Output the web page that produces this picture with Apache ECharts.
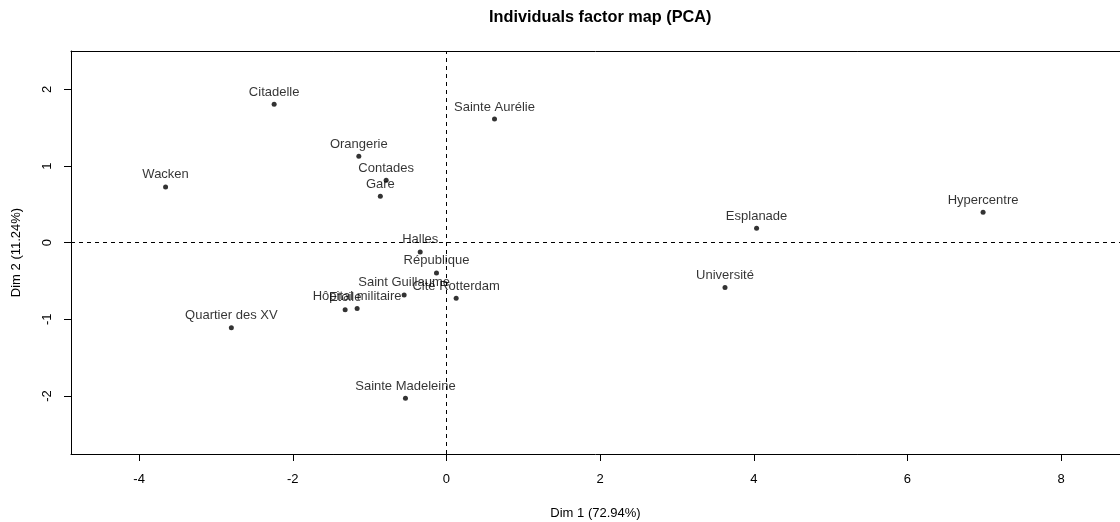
<!DOCTYPE html>
<html>
<head>
<meta charset="utf-8">
<title>Individuals factor map (PCA)</title>
<script src="https://cdn.jsdelivr.net/npm/echarts@6/dist/echarts.min.js"></script>
<style>
  html, body { margin: 0; padding: 0; background: #ffffff; overflow: hidden; }
  #chart { width: 1120px; height: 522px; }
</style>
</head>
<body>
<div id="chart"></div>
<script>
// Individuals (districts) and their coordinates on the first two PCA dimensions
const names = [
  'Citadelle', 'Wacken', 'Quartier des XV', 'Halles', 'République',
  'Saint Guillaume', 'Cité Rotterdam', 'Etoile', 'Hôpital militaire',
  'Sainte Aurélie', 'Orangerie', 'Contades', 'Gare', 'Esplanade',
  'Hypercentre', 'Université', 'Sainte Madeleine'
];
const dim1 = [
  -2.243, -3.656, -2.800, -0.342, -0.130,
  -0.551, 0.126, -1.319, -1.163,
  0.625, -1.141, -0.785, -0.861, 4.036,
  6.984, 3.625, -0.534
];
const dim2 = [
  1.806, 0.728, -1.111, -0.120, -0.394,
  -0.681, -0.724, -0.875, -0.858,
  1.614, 1.128, 0.815, 0.606, 0.189,
  0.398, -0.584, -2.031
];
const xTicks = [-4, -2, 0, 2, 4, 6, 8];
const yTicks = [-2, -1, 0, 1, 2];

const FONT = '"Liberation Sans", Arial, sans-serif';
const frameLine = { show: true, onZero: false, lineStyle: { color: '#000', width: 1 } };

const points = names.map((n, i) => ({ name: n, value: [dim1[i], dim2[i]] }));

const chart = echarts.init(document.getElementById('chart'), null, { renderer: 'canvas' });

chart.setOption({
  animation: false,
  backgroundColor: '#ffffff',
  title: {
    text: 'Individuals factor map (PCA)',
    left: 489,
    top: 10,
    padding: 0,
    textStyle: { fontFamily: FONT, fontSize: 16.3, fontWeight: 'bold', color: '#000' }
  },
  // the plotting box continues past the right edge of the page,
  // so only its left, top and bottom sides are drawn
  grid: {
    left: 71,
    top: 51,
    right: 0,
    bottom: 68,
    show: false,
    outerBoundsMode: 'none'
  },
  xAxis: [{
    type: 'value',
    position: 'bottom',
    min: -4.887,
    max: 8.766,
    name: 'Dim 1 (72.94%)',
    nameLocation: 'middle',
    nameGap: 53,
    nameTextStyle: { fontFamily: FONT, fontSize: 13, color: '#000' },
    axisLine: frameLine,
    splitLine: { show: false },
    axisTick: {
      show: true, inside: false, length: 7,
      customValues: xTicks,
      lineStyle: { color: '#000', width: 1 }
    },
    axisLabel: {
      customValues: xTicks,
      margin: 19,
      fontFamily: FONT, fontSize: 13, color: '#000'
    }
  }, {
    type: 'value',
    position: 'top',
    min: -4.887,
    max: 8.766,
    axisLine: frameLine,
    axisTick: { show: false },
    axisLabel: { show: false },
    splitLine: { show: false }
  }],
  yAxis: {
    type: 'value',
    min: -2.757,
    max: 2.501,
    name: 'Dim 2 (11.24%)',
    nameLocation: 'middle',
    nameGap: 48,
    nameRotate: 90,
    nameTextStyle: { fontFamily: FONT, fontSize: 13, color: '#000' },
    axisLine: frameLine,
    splitLine: { show: false },
    axisTick: {
      show: true, inside: false, length: 7,
      customValues: yTicks,
      lineStyle: { color: '#000', width: 1 }
    },
    axisLabel: {
      customValues: yTicks,
      rotate: 90,
      margin: 17,
      fontFamily: FONT, fontSize: 13, color: '#000'
    }
  },
  series: [{
    type: 'scatter',
    data: points,
    symbol: 'circle',
    symbolSize: 5,
    itemStyle: { color: '#000' },
    label: {
      show: true,
      position: 'top',
      distance: 3,
      formatter: p => p.name,
      fontFamily: FONT, fontSize: 13, color: '#000'
    },
    emphasis: { disabled: true },
    markLine: {
      silent: true,
      symbol: 'none',
      label: { show: false },
      lineStyle: { color: '#000', width: 1, type: [4, 4] },
      data: [{ xAxis: 0 }, { yAxis: 0 }]
    }
  }]
});
</script>
</body>
</html>
